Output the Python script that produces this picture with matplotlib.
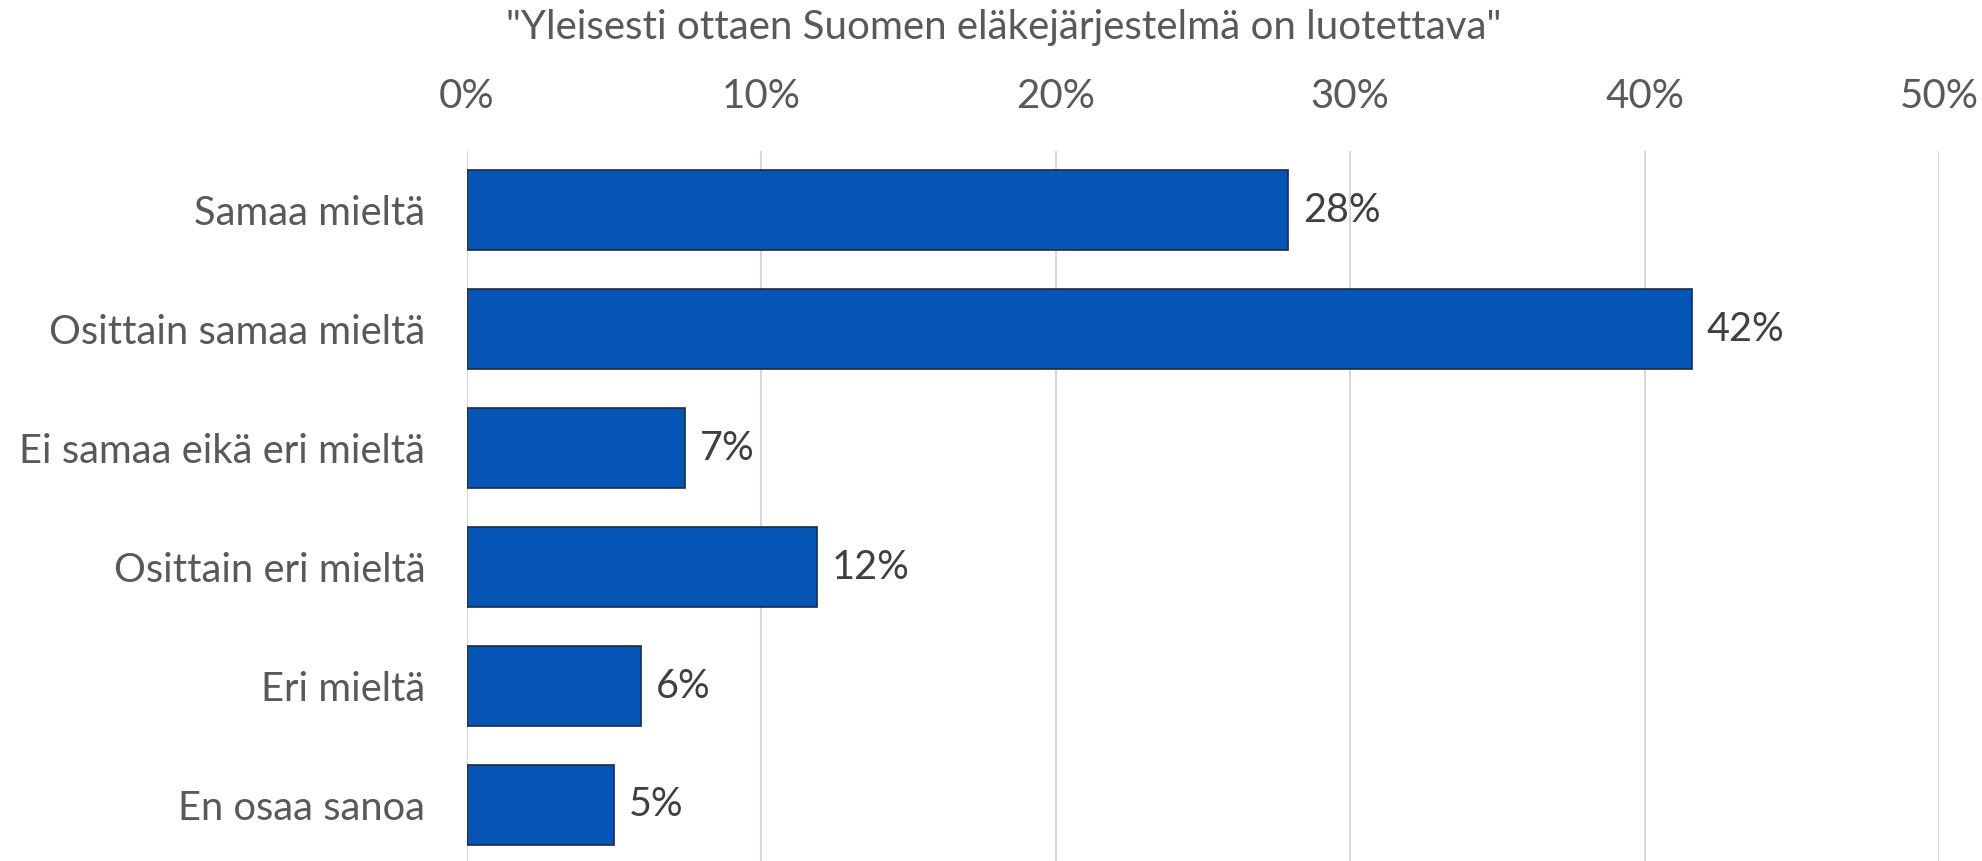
import matplotlib
matplotlib.use("Agg")
import matplotlib.pyplot as plt
from matplotlib.ticker import PercentFormatter

# 数据
categories = ["Samaa mieltä", "Osittain samaa mieltä", "Ei samaa eikä eri mieltä",
              "Osittain eri mieltä", "Eri mieltä", "En osaa sanoa"]
values = [27.9, 41.6, 7.4, 11.9, 5.9, 5.0]
value_labels = ["28%", "42%", "7%", "12%", "6%", "5%"]
x_ticks = [0, 10, 20, 30, 40, 50]
title = '"Yleisesti ottaen Suomen eläkejärjestelmä on luotettava"'

plt.rcParams["font.family"] = ["Lato", "DejaVu Sans"]

fig = plt.figure(figsize=(19.83, 8.61), dpi=100)
ax = fig.add_axes([0.2355, -0.004, 0.7423, 0.829])

pos = list(range(len(categories)))
ax.barh(pos, values, height=0.67, color="#0455B5", edgecolor="#1C2B3F", linewidth=1.2, zorder=3)

# 数值标签
for p, v, lab in zip(pos, values, value_labels):
    ax.text(v + 0.5, p, lab, va="center", ha="left", fontsize=28.5, color="#404040")

ax.set_xlim(0, 50)
ax.set_ylim(len(categories) - 0.5, -0.5)
ax.set_yticks(pos)
ax.set_yticklabels(categories, fontsize=28.7, color="#595959")
ax.set_xticks(x_ticks)
ax.xaxis.set_major_formatter(PercentFormatter(decimals=0))
ax.xaxis.tick_top()
ax.tick_params(axis="x", length=0, pad=26, labelsize=29, labelcolor="#595959")
ax.tick_params(axis="y", length=0, pad=30)
ax.grid(axis="x", color="#D9D9D9", linewidth=1.5, zorder=0)
for s in ax.spines.values():
    s.set_visible(False)

fig.text(0.506, 1 - 28 / 861, title, ha="center", va="center", fontsize=29, color="#595959")

fig.savefig("out.png", dpi=100)
